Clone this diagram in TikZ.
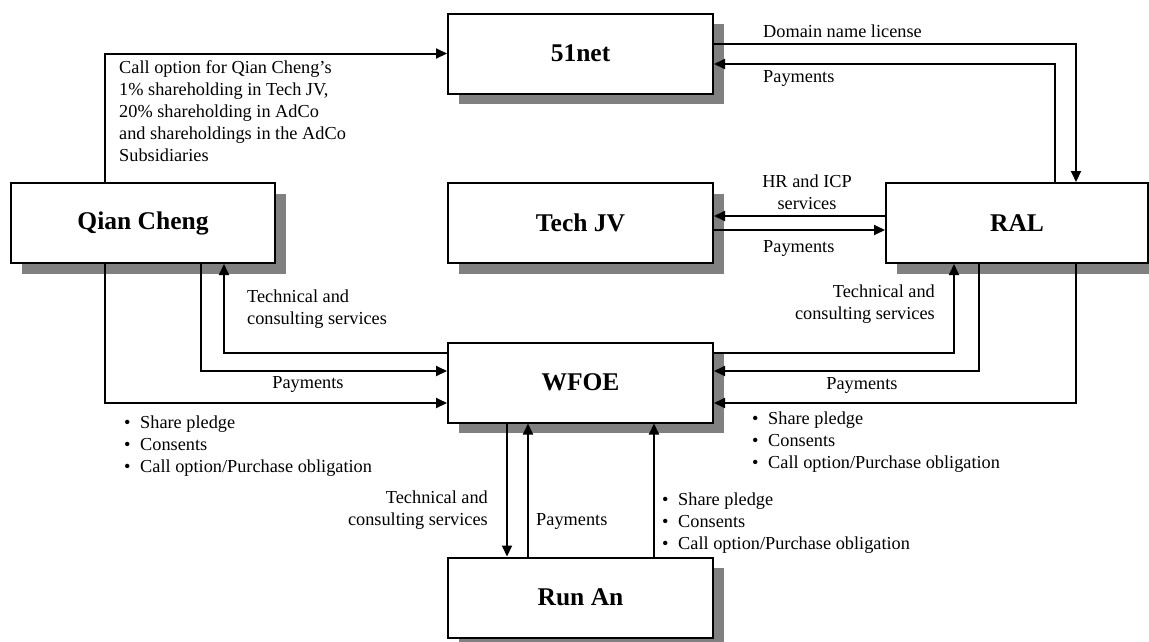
\documentclass[tikz,border=0pt]{standalone}
\usepackage{fontspec}
\setmainfont{Liberation Serif}
\usetikzlibrary{arrows.meta}
\usetikzlibrary{shadows}
\newcommand{\bul}{\makebox[16pt][l]{\textbullet}}

\begin{document}
\begin{tikzpicture}[x=1pt,y=-1pt,
  ent/.style={draw,line width=2pt,fill=white,minimum width=265pt,minimum height=80pt,inner sep=0pt,
    font=\bfseries\fontsize{25.5}{30}\selectfont,
    drop shadow={shadow xshift=10.5pt,shadow yshift=-10.5pt,fill=gray,opacity=1}},
  flow/.style={line width=2pt,-{Triangle[length=11pt,width=10pt]}},
  txt/.style={inner sep=0pt,font=\fontsize{18.3}{22}\selectfont}]
\useasboundingbox (0,0) rectangle (1149,641);
\node[ent] (N) at (580.5,53.5) {51net};
\node[ent,minimum width=264pt] (Q) at (143,223) {Qian Cheng};
\node[ent] (T) at (580.5,223) {Tech JV};
\node[ent,minimum width=262pt] (R) at (1017,223) {RAL};
\node[ent] (W) at (580.5,382.5) {WFOE};
\node[ent] (RA) at (580.5,597.5) {Run An};
\draw[flow] ([xshift=-38pt]Q.north) |- (N.west);
\draw[flow] ([yshift=9.5pt]N.east) -| ([xshift=59pt]R.north);
\draw[flow] ([xshift=38pt]R.north) |- ([yshift=-10.5pt]N.east);
\draw[flow] ([yshift=7pt]R.west) -- ([yshift=7pt]T.east);
\draw[flow] ([yshift=-7pt]T.east) -- ([yshift=-7pt]R.west);
\draw[flow] ([yshift=29.5pt]W.west) -| ([xshift=81pt]Q.south);
\draw[flow] ([xshift=58pt]Q.south) |- ([yshift=11.5pt]W.west);
\draw[flow] ([xshift=-38pt]Q.south) |- ([yshift=-20.5pt]W.west);
\draw[flow] ([yshift=29.5pt]W.east) -| ([xshift=-63pt]R.south);
\draw[flow] ([xshift=-38pt]R.south) |- ([yshift=11.5pt]W.east);
\draw[flow] ([xshift=59pt]R.south) |- ([yshift=-20.5pt]W.east);
\draw[flow] ([xshift=-73.5pt]W.south) -- ([xshift=-73.5pt]RA.north);
\draw[flow] ([xshift=-52.5pt]RA.north) -- ([xshift=-52.5pt]W.south);
\draw[flow] ([xshift=73.5pt]RA.north) -- ([xshift=73.5pt]W.south);
% labels (base = last line)
\node[txt,anchor=base west,align=left] (callopt) at (119,161) {Call option for Qian Cheng's\\1\% shareholding in Tech JV,\\20\% shareholding in AdCo\\and shareholdings in the AdCo\\Subsidiaries};
\node[txt,anchor=base west] (domlbl) at (763,37) {Domain name license};
\node[txt,anchor=base west] (paylblN) at (763,82) {Payments};
\node[txt,anchor=base,align=center] (hrlbl) at (807,209) {HR and ICP\\services};
\node[txt,anchor=base west] (paylblT) at (763,252) {Payments};
\node[txt,anchor=base west,align=left] (techlblQ) at (247,324) {Technical and\\consulting services};
\node[txt,anchor=base] (paylblQ) at (308,388) {Payments};
\node[txt,anchor=base west,align=left] (shrlblQ) at (124,472) {\bul Share pledge\\\bul Consents\\\bul Call option/Purchase obligation};
\node[txt,anchor=base east,align=right] (techlblR) at (935,319) {Technical and\\consulting services};
\node[txt,anchor=base] (paylblR) at (862,389) {Payments};
\node[txt,anchor=base west,align=left] (shrlblR) at (752,468) {\bul Share pledge\\\bul Consents\\\bul Call option/Purchase obligation};
\node[txt,anchor=base east,align=right] (techlblRA) at (488,525) {Technical and\\consulting services};
\node[txt,anchor=base west] (paylblRA) at (536,525) {Payments};
\node[txt,anchor=base west,align=left] (shrlblRA) at (662,549) {\bul Share pledge\\\bul Consents\\\bul Call option/Purchase obligation};
\end{tikzpicture}
\end{document}
